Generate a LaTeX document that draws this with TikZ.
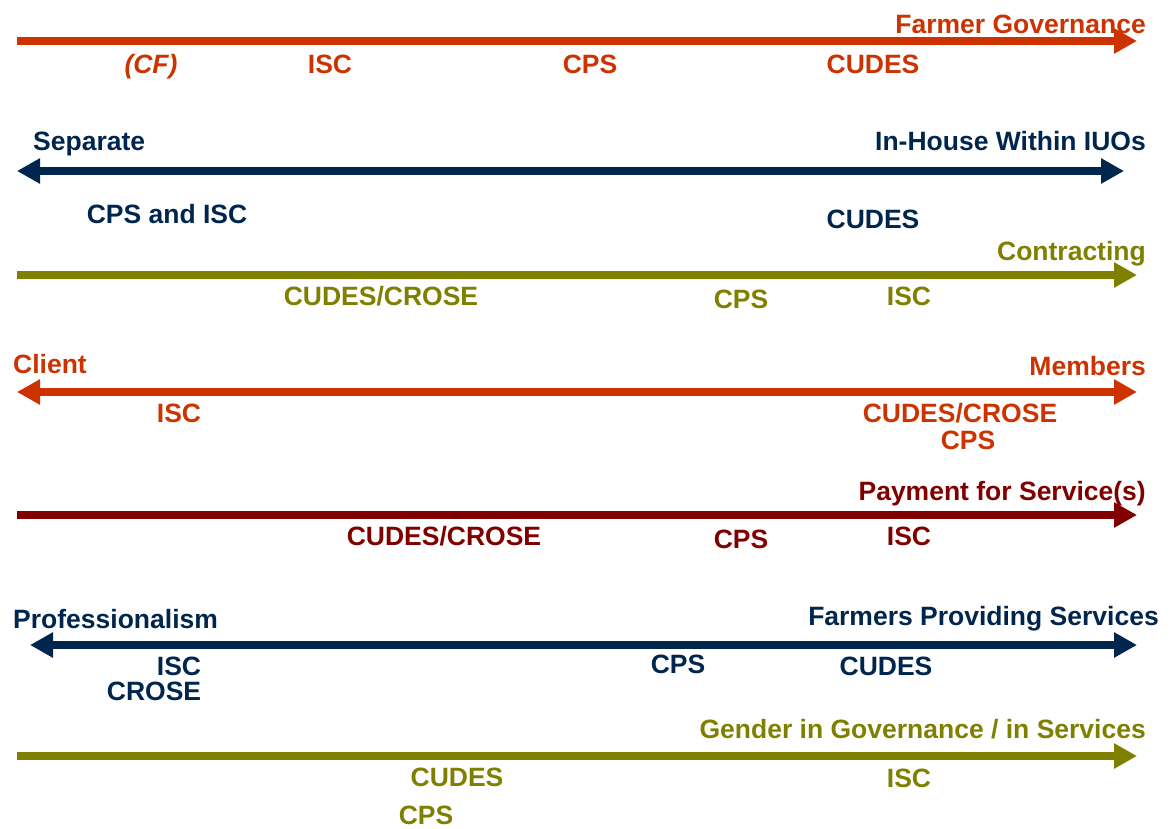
\documentclass[tikz,border=0pt]{standalone}
\usepackage{fontspec}
\setmainfont{Liberation Sans}
\usetikzlibrary{arrows.meta}
\definecolor{rust}{HTML}{CC3300}
\definecolor{navy}{HTML}{00264D}
\definecolor{moss}{HTML}{808000}
\definecolor{wine}{HTML}{800000}
\begin{document}
\begin{tikzpicture}[x=1pt,y=-1pt,
    oneway/.style={line width=7.5pt,-{Triangle[length=23pt,width=24pt]}},
    twoway/.style={line width=7.5pt,{Triangle[length=23pt,width=24pt]}-{Triangle[length=23pt,width=24pt]}},
    lbl/.style={font=\bfseries\fontsize{26.5}{31}\selectfont,inner sep=0pt,anchor=base},
    endl/.style={lbl,anchor=base east},
    startl/.style={lbl,anchor=base west}]
    \useasboundingbox (0,0) rectangle (1173,828);

    % Farmer governance
    \coordinate (fgA) at (17,41);
    \coordinate (fgB) at (1137,41);
    \draw[rust, oneway] (fgA) -- (fgB);
    \node[rust, endl] (fg) at (1146,33) {Farmer Governance};
    \node[rust, lbl] (fgcf) at (151,73) {\itshape (CF)};
    \node[rust, lbl] (fgisc) at (330,73) {ISC};
    \node[rust, lbl] (fgcps) at (590,73) {CPS};
    \node[rust, lbl] (fgcudes) at (873,73) {CUDES};

    % Separate vs in-house
    \coordinate (sepA) at (17,171);
    \coordinate (sepB) at (1124,171);
    \draw[navy, twoway] (sepA) -- (sepB);
    \node[navy, startl] (sep) at (33,150) {Separate};
    \node[navy, endl] (inh) at (1146,150) {In-House Within IUOs};
    \node[navy, lbl] (sepcps) at (167,223) {CPS and ISC};
    \node[navy, lbl] (sepcudes) at (873,228) {CUDES};

    % Contracting
    \coordinate (conA) at (17,275);
    \coordinate (conB) at (1137,275);
    \draw[moss, oneway] (conA) -- (conB);
    \node[moss, endl] (con) at (1146,260) {Contracting};
    \node[moss, lbl] (concudes) at (381,305) {CUDES/CROSE};
    \node[moss, lbl] (concps) at (741,308) {CPS};
    \node[moss, lbl] (conisc) at (909,305) {ISC};

    % Client vs members
    \coordinate (cliA) at (17,392);
    \coordinate (cliB) at (1137,392);
    \draw[rust, twoway] (cliA) -- (cliB);
    \node[rust, startl] (cli) at (13,373) {Client};
    \node[rust, endl] (mem) at (1146,375) {Members};
    \node[rust, lbl] (cliisc) at (179,422) {ISC};
    \node[rust, lbl] (clicudes) at (960,422) {CUDES/CROSE};
    \node[rust, lbl] (clicps) at (968,449) {CPS};

    % Payment
    \coordinate (payA) at (17,515);
    \coordinate (payB) at (1137,515);
    \draw[wine, oneway] (payA) -- (payB);
    \node[wine, endl] (pay) at (1146,500) {Payment for Service(s)};
    \node[wine, lbl] (paycudes) at (444,545) {CUDES/CROSE};
    \node[wine, lbl] (paycps) at (741,548) {CPS};
    \node[wine, lbl] (payisc) at (909,545) {ISC};

    % Professionalism vs farmers
    \coordinate (proA) at (30,645);
    \coordinate (proB) at (1137,645);
    \draw[navy, twoway] (proA) -- (proB);
    \node[navy, startl] (pro) at (13,628) {Professionalism};
    \node[navy, endl] (fps) at (1159,625) {Farmers Providing Services};
    \node[navy, lbl] (proisc) at (179,675) {ISC};
    \node[navy, lbl] (procrose) at (154,700) {CROSE};
    \node[navy, lbl] (procps) at (678,673) {CPS};
    \node[navy, lbl] (procudes) at (886,675) {CUDES};

    % Gender
    \coordinate (genA) at (17,756);
    \coordinate (genB) at (1137,756);
    \draw[moss, oneway] (genA) -- (genB);
    \node[moss, endl] (gen) at (1146,738) {Gender in Governance / in Services};
    \node[moss, lbl] (gencudes) at (457,786) {CUDES};
    \node[moss, lbl] (genisc) at (909,787) {ISC};
    \node[moss, lbl] (gencps) at (426,824) {CPS};
\end{tikzpicture}
\end{document}
